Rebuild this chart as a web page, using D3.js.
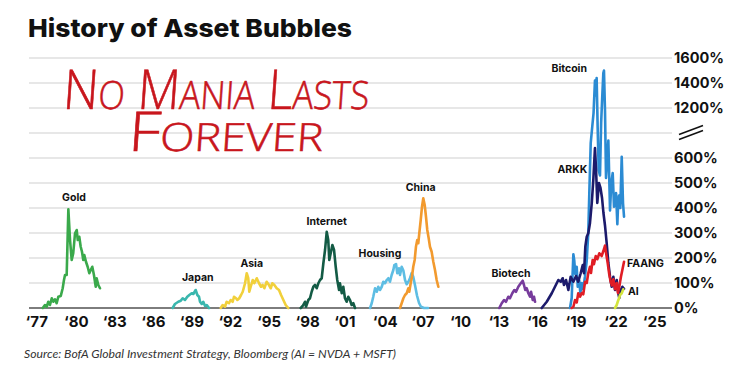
<!DOCTYPE html>
<html>
<head>
<meta charset="utf-8">
<script src="https://cdn.jsdelivr.net/npm/d3@7"></script>
<style>
  body { margin: 0; background: #fff; }
  svg { display: block; }
</style>
</head>
<body>
<div id="chart"></div>
<script>
// [year, % gain]
const gold = [[1978.07,0],[1978.24,12],[1978.38,5],[1978.50,25],[1978.63,12],[1978.77,39],[1978.89,25],[1979.02,35],[1979.15,19],[1979.28,45],[1979.47,48],[1979.62,79],[1979.72,112],[1979.80,132],[1979.93,132],[1980.06,395],[1980.19,272],[1980.32,192],[1980.44,219],[1980.58,299],[1980.71,312],[1980.79,272],[1980.91,285],[1981.02,245],[1981.12,225],[1981.22,192],[1981.30,212],[1981.43,185],[1981.56,165],[1981.69,139],[1981.80,152],[1981.92,165],[1982.05,132],[1982.19,85],[1982.26,119],[1982.39,92],[1982.52,79]];
const japan = [[1988.17,0],[1988.35,16],[1988.61,25],[1988.80,29],[1988.95,39],[1989.13,32],[1989.31,45],[1989.47,52],[1989.65,59],[1989.78,56],[1989.96,72],[1990.09,52],[1990.22,45],[1990.30,25],[1990.43,16],[1990.55,25],[1990.69,8],[1990.82,12],[1991.00,0]];
const asia = [[1991.91,0],[1992.06,12],[1992.24,5],[1992.37,25],[1992.55,19],[1992.68,32],[1992.84,25],[1992.94,45],[1993.10,39],[1993.20,32],[1993.35,39],[1993.49,52],[1993.62,65],[1993.80,99],[1993.93,139],[1994.05,119],[1994.13,65],[1994.24,85],[1994.40,112],[1994.52,99],[1994.71,119],[1994.89,99],[1995.04,85],[1995.17,92],[1995.30,79],[1995.48,105],[1995.66,92],[1995.80,79],[1995.92,99],[1996.08,92],[1996.26,79],[1996.44,72],[1996.60,52],[1996.78,32],[1996.96,12],[1997.16,0]];
const internet = [[1998.13,0],[1998.28,8],[1998.46,25],[1998.54,5],[1998.72,32],[1998.85,39],[1998.98,65],[1999.11,85],[1999.24,92],[1999.37,79],[1999.50,99],[1999.63,112],[1999.76,119],[1999.89,179],[2000.02,232],[2000.15,305],[2000.27,272],[2000.35,192],[2000.46,219],[2000.59,252],[2000.72,232],[2000.85,165],[2000.97,112],[2001.11,72],[2001.18,99],[2001.32,59],[2001.44,85],[2001.57,39],[2001.70,25],[2001.83,45],[2001.96,32],[2002.09,12],[2002.22,19],[2002.35,0]];
const housing = [[2003.52,0],[2003.65,19],[2003.77,45],[2003.91,79],[2004.04,65],[2004.16,85],[2004.29,72],[2004.43,85],[2004.55,105],[2004.68,99],[2004.82,112],[2004.94,119],[2005.07,105],[2005.20,132],[2005.33,152],[2005.41,172],[2005.54,176],[2005.64,139],[2005.77,159],[2005.85,132],[2005.98,165],[2006.11,150],[2006.24,112],[2006.37,95],[2006.50,105],[2006.63,120],[2006.76,140],[2006.88,125],[2007.02,90],[2007.17,50],[2007.33,20],[2007.48,5],[2007.72,0],[2008.03,0]];
const china = [[2005.85,0],[2005.98,19],[2006.11,39],[2006.24,52],[2006.37,59],[2006.50,79],[2006.57,65],[2006.68,99],[2006.78,125],[2006.88,165],[2006.99,192],[2007.09,245],[2007.19,272],[2007.27,259],[2007.35,299],[2007.46,352],[2007.56,405],[2007.66,439],[2007.77,412],[2007.87,365],[2007.97,312],[2008.08,279],[2008.18,245],[2008.31,225],[2008.44,185],[2008.57,152],[2008.70,112],[2008.83,85]];
const biotech = [[2013.57,0],[2013.76,19],[2013.94,32],[2014.09,25],[2014.27,45],[2014.40,39],[2014.58,59],[2014.74,72],[2014.87,65],[2015.05,85],[2015.24,99],[2015.39,109],[2015.49,92],[2015.59,72],[2015.70,79],[2015.83,59],[2015.96,45],[2016.04,65],[2016.17,32],[2016.27,45],[2016.35,25]];
const bitcoin = [[2019.07,0],[2019.20,40],[2019.33,215],[2019.40,190],[2019.48,135],[2019.59,165],[2019.67,85],[2019.79,110],[2019.87,60],[2019.98,100],[2020.10,75],[2020.23,125],[2020.37,190],[2020.49,300],[2020.57,460],[2020.68,660],[2020.80,830],[2020.90,1100],[2021.01,1420],[2021.07,1300],[2021.14,1440],[2021.22,800],[2021.30,550],[2021.40,530],[2021.49,900],[2021.58,1300],[2021.66,1480],[2021.71,1500],[2021.79,1150],[2021.87,520],[2021.97,600],[2022.05,670],[2022.18,390],[2022.28,500],[2022.39,540],[2022.49,405],[2022.57,430],[2022.65,460],[2022.75,335],[2022.82,430],[2022.88,450],[2022.98,400],[2023.09,605],[2023.19,420],[2023.27,365]];
const arkk = [[2016.87,0],[2017.26,25],[2017.65,59],[2017.90,85],[2018.16,112],[2018.35,105],[2018.50,119],[2018.60,92],[2018.76,112],[2018.94,72],[2019.12,125],[2019.33,105],[2019.54,128],[2019.71,105],[2019.90,139],[2020.06,172],[2020.16,139],[2020.26,245],[2020.37,285],[2020.49,299],[2020.62,339],[2020.76,419],[2020.88,512],[2021.01,640],[2021.09,560],[2021.19,420],[2021.32,500],[2021.44,480],[2021.56,440],[2021.67,380],[2021.79,330],[2021.92,260],[2022.05,180],[2022.18,125],[2022.31,85],[2022.44,125],[2022.57,72],[2022.70,112],[2022.82,60],[2022.90,40],[2023.01,72],[2023.14,85],[2023.27,77]];
const faang = [[2019.20,0],[2019.33,5],[2019.46,32],[2019.59,22],[2019.71,59],[2019.85,45],[2019.98,60],[2020.10,55],[2020.24,105],[2020.37,100],[2020.49,140],[2020.62,165],[2020.70,140],[2020.83,192],[2020.93,175],[2021.07,208],[2021.19,195],[2021.35,219],[2021.53,208],[2021.71,235],[2021.79,250],[2021.89,215],[2022.00,180],[2022.12,135],[2022.23,105],[2022.33,90],[2022.44,115],[2022.57,75],[2022.70,100],[2022.80,60],[2022.90,85],[2023.03,125],[2023.17,160],[2023.27,185]];
const ai = [[2022.57,0],[2022.70,12],[2022.78,25],[2022.88,39],[2022.96,52],[2023.09,59],[2023.21,75]];

const xTicks = [1977, 1980, 1983, 1986, 1989, 1992, 1995, 1998, 2001, 2004, 2007, 2010, 2013, 2016, 2019, 2022, 2025];
const yTicks = [0, 100, 200, 300, 400, 500, 600, 1200, 1400, 1600];
const gridValues = [0, 100, 200, 300, 400, 500, 600, 700, 1200, 1400, 1600];
const breakValue = 700;

// drawn bottom to top
const series = [
  {name: "Gold", data: gold, color: "#3aa94b", label: [1980.5, 430], anchor: "middle"},
  {name: "Japan", data: japan, color: "#3ab7ae", label: [1990.12, 108], anchor: "middle"},
  {name: "Asia", data: asia, color: "#f1d03b", label: [1994.32, 166], anchor: "middle"},
  {name: "Internet", data: internet, color: "#135b45", label: [2000.15, 334], anchor: "middle"},
  {name: "Housing", data: housing, color: "#5dbde3", label: [2004.29, 204], anchor: "middle"},
  {name: "China", data: china, color: "#f29a2e", label: [2007.46, 468], anchor: "middle"},
  {name: "Biotech", data: biotech, color: "#773c9c", label: [2014.48, 124], anchor: "middle"},
  {name: "Bitcoin", data: bitcoin, color: "#2b8bd3", label: [2019.01, 1488], anchor: "middle"},
  {name: "ARKK", data: arkk, color: "#1c1a6b", label: [2019.25, 540], anchor: "middle"},
  {name: "FAANG", data: faang, color: "#e01d25", label: [2023.5, 166], anchor: "start"},
  {name: "AI", data: ai, color: "#d3e43c", label: [2023.58, 54], anchor: "start"}
];

const width = 740;
const height = 370;
const margin = {top: 58, right: 68, bottom: 62, left: 29};
const font = "Inter, Lato, sans-serif";

const svg = d3.select("#chart")
  .append("svg")
  .attr("width", width)
  .attr("height", height)
  .attr("viewBox", [0, 0, width, height]);

svg.append("rect").attr("width", width).attr("height", height).attr("fill", "#fff");

const x = d3.scaleLinear()
  .domain([1977, 2027])
  .range([margin.left, width - margin.right]);

const bottom = height - margin.bottom;
const step = (bottom - margin.top) / 10;
const y = d3.scaleLinear()
  .domain([0, 700, 1200, 1600])
  .range([bottom, bottom - 7 * step, bottom - 8 * step, margin.top]);

// grid
svg.append("g")
  .selectAll("line")
  .data(gridValues)
  .join("line")
    .attr("x1", x.range()[0])
    .attr("x2", x.range()[1])
    .attr("y1", d => y(d))
    .attr("y2", d => y(d))
    .attr("stroke", d => d === 0 ? "#7d7d7d" : "#cfcfcf")
    .attr("stroke-width", d => d === 0 ? 2 : 1.2);

// title
svg.append("text")
  .attr("x", 28)
  .attr("y", 37)
  .attr("font-family", font)
  .attr("font-weight", 800)
  .attr("font-size", 25)
  .attr("textLength", 324)
  .attr("lengthAdjust", "spacingAndGlyphs")
  .attr("fill", "#111")
  .text("History of Asset Bubbles");

// handwritten note
const note = svg.append("g")
  .attr("fill", "#c8161d")
  .attr("stroke", "#c8161d")
  .attr("stroke-width", 0.6)
  .attr("font-family", "'Open Sans', sans-serif")
  .attr("font-weight", 300)
  .attr("font-size", 55)
  .style("font-variant", "small-caps");
note.append("text")
  .attr("x", 62).attr("y", 109)
  .attr("textLength", 306)
  .attr("lengthAdjust", "spacingAndGlyphs")
  .attr("transform", "skewX(-4) translate(8,0)")
  .text("No Mania Lasts");
note.append("text")
  .attr("x", 128).attr("y", 151)
  .attr("textLength", 195)
  .attr("lengthAdjust", "spacingAndGlyphs")
  .attr("transform", "skewX(-4) translate(10,0)")
  .text("Forever");

// lines
const line = d3.line()
  .x(d => x(d[0]))
  .y(d => y(d[1]));

svg.append("g")
  .attr("fill", "none")
  .attr("stroke-width", 2.6)
  .attr("stroke-linejoin", "round")
  .attr("stroke-linecap", "round")
  .selectAll("path")
  .data(series)
  .join("path")
    .attr("stroke", d => d.color)
    .attr("d", d => line(d.data));

// series labels
svg.append("g")
  .attr("font-family", font)
  .attr("font-weight", 700)
  .attr("font-size", 10.5)
  .attr("fill", "#111")
  .selectAll("text")
  .data(series)
  .join("text")
    .attr("x", d => x(d.label[0]))
    .attr("y", d => y(d.label[1]))
    .attr("text-anchor", d => d.anchor)
    .text(d => d.name);

// x axis
const xAxis = g => g
  .attr("transform", `translate(0,${bottom + 16})`)
  .call(d3.axisBottom(x)
    .tickValues(xTicks)
    .tickSize(0)
    .tickFormat(d => "\u2018" + String(d).slice(2)))
  .call(g => g.select(".domain").remove())
  .call(g => g.selectAll("text")
    .attr("text-anchor", "start")
    .attr("dx", -4)
    .attr("dy", 0)
    .attr("fill", "#111")
    .attr("font-family", font)
    .attr("font-weight", 700)
    .attr("font-size", 15));

// y axis
const yAxis = g => g
  .attr("transform", `translate(${x.range()[1]},0)`)
  .call(d3.axisRight(y)
    .tickValues(yTicks)
    .tickSize(0)
    .tickPadding(2)
    .tickFormat(d => d + "%"))
  .call(g => g.select(".domain").remove())
  .call(g => g.selectAll("text")
    .attr("fill", "#111")
    .attr("font-family", font)
    .attr("font-weight", 700)
    .attr("font-size", 14.5));

svg.append("g").call(xAxis);
svg.append("g").call(yAxis);

// axis break mark
const yb = y(breakValue);
const bx = x.range()[1] + 7;
svg.append("g")
  .attr("stroke", "#111")
  .attr("stroke-width", 1.6)
  .selectAll("line")
  .data([-2.5, 2.5])
  .join("line")
    .attr("x1", bx)
    .attr("x2", bx + 24)
    .attr("y1", d => yb + 4 + d)
    .attr("y2", d => yb - 5 + d);

// source
svg.append("text")
  .attr("x", 24)
  .attr("y", 358)
  .attr("font-family", "Lato, sans-serif")
  .attr("font-style", "italic")
  .attr("font-size", 12)
  .attr("textLength", 372)
  .attr("lengthAdjust", "spacingAndGlyphs")
  .attr("fill", "#333")
  .text("Source: BofA Global Investment Strategy, Bloomberg (AI = NVDA + MSFT)");
</script>
</body>
</html>
